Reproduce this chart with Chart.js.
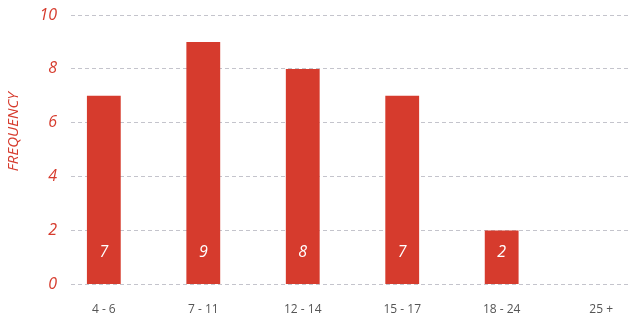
<!DOCTYPE html>
<html>
<head>
<meta charset="utf-8">
<script src="https://cdn.jsdelivr.net/npm/chart.js@4/dist/chart.umd.min.js"></script>
<style>
  html, body { margin: 0; padding: 0; background: #fff; }
  #wrap { width: 628px; height: 320px; }
</style>
</head>
<body>
<div id="wrap"><canvas id="freq-chart" width="628" height="320"></canvas></div>
<script>
// age groups and how often each came up
const ageGroups = ['4 - 6', '7 - 11', '12 - 14', '15 - 17', '18 - 24', '25 +'];
const frequency = [7, 9, 8, 7, 2, 0];
const yTicks = [0, 2, 4, 6, 8, 10];

const red = '#d63b2d';
const font = "'Open Sans', sans-serif";

// white numbers near the bottom of each bar
const barLabels = {
    id: 'barLabels',
    afterDatasetsDraw(chart) {
        const ctx = chart.ctx;
        const meta = chart.getDatasetMeta(0);
        ctx.save();
        ctx.fillStyle = '#fff';
        ctx.font = 'italic 16px ' + font;
        ctx.textAlign = 'center';
        ctx.textBaseline = 'middle';
        meta.data.forEach((bar, i) => {
            if (!frequency[i]) return;
            ctx.fillText(frequency[i], bar.x, bar.base - 32);
        });
        ctx.restore();
    }
};

// rotated axis title, sits a bit above the middle
const yTitle = {
    id: 'yTitle',
    afterDraw(chart) {
        const ctx = chart.ctx;
        const area = chart.chartArea;
        ctx.save();
        ctx.translate(14, (area.top + area.bottom) / 2 - 18);
        ctx.rotate(-Math.PI / 2);
        ctx.fillStyle = red;
        ctx.font = 'italic 15px ' + font;
        ctx.textAlign = 'center';
        ctx.textBaseline = 'middle';
        ctx.fillText('FREQUENCY', 0, 0);
        ctx.restore();
    }
};

const ctx = document.getElementById('freq-chart').getContext('2d');
new Chart(ctx, {
    type: 'bar',
    data: {
        datasets: [{
            data: frequency.map((v, i) => ({ x: i, y: v })),
            backgroundColor: red,
            borderWidth: 0,
            categoryPercentage: 1,
            barPercentage: 0.34
        }]
    },
    options: {
        responsive: false,
        animation: false,
        layout: { padding: { top: 15, left: 0, right: 0, bottom: 0 } },
        plugins: { legend: { display: false }, tooltip: { enabled: false } },
        scales: {
            x: {
                type: 'linear',
                offset: false,
                min: -0.33,
                max: 5.27,
                grid: { display: false, drawTicks: false },
                border: { display: false },
                ticks: {
                    stepSize: 1,
                    includeBounds: false,
                    autoSkip: false,
                    maxRotation: 0,
                    padding: 18,
                    color: '#555',
                    font: { family: font, size: 12 },
                    callback: v => ageGroups[Math.round(v)] ?? ''
                },
                afterFit: s => { s.height = 35.5; s.paddingLeft = 0; s.paddingRight = 0; }
            },
            y: {
                min: 0,
                max: 10,
                afterBuildTicks: s => { s.ticks = yTicks.map(v => ({ value: v })); },
                grid: { color: '#c4c4cc', lineWidth: 1, drawTicks: false },
                border: { display: false, dash: [4, 3] },
                ticks: {
                    padding: 14,
                    color: red,
                    font: { family: font, size: 16, style: 'italic' }
                },
                afterFit: s => { s.width = 71; s.paddingTop = 0; s.paddingBottom = 0; }
            }
        }
    },
    plugins: [barLabels, yTitle]
});
</script>
</body>
</html>
